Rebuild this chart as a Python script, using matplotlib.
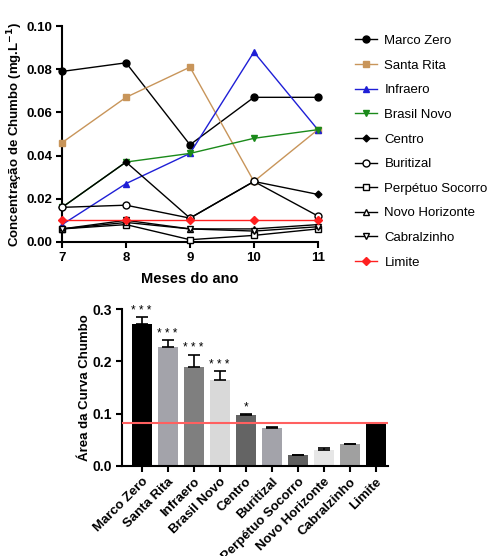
import matplotlib
matplotlib.use("Agg")
import matplotlib.pyplot as plt

plt.rcParams['font.family'] = ['Liberation Sans', 'DejaVu Sans']

months = [7, 8, 9, 10, 11]
month_labels = ['7', '8', '9', '10', '11']

series_names = ['Marco Zero', 'Santa Rita', 'Infraero', 'Brasil Novo', 'Centro',
                'Buritizal', 'Perpétuo Socorro', 'Novo Horizonte', 'Cabralzinho', 'Limite']
marco_zero = [0.079, 0.083, 0.045, 0.067, 0.067]
santa_rita = [0.046, 0.067, 0.081, 0.028, 0.052]
infraero = [0.008, 0.027, 0.041, 0.088, 0.052]
brasil_novo = [0.016, 0.037, 0.041, 0.048, 0.052]
centro = [0.016, 0.037, 0.011, 0.028, 0.022]
buritizal = [0.016, 0.017, 0.011, 0.028, 0.012]
perpetuo = [0.006, 0.008, 0.001, 0.003, 0.006]
novo_horizonte = [0.006, 0.009, 0.006, 0.006, 0.008]
cabralzinho = [0.006, 0.010, 0.006, 0.005, 0.007]
limite = [0.010, 0.010, 0.010, 0.010, 0.010]

auc_values = [0.272, 0.228, 0.189, 0.164, 0.098, 0.073, 0.021, 0.031, 0.041, 0.083]
auc_errors = [0.012, 0.012, 0.024, 0.017, 0.001, 0.001, 0.0005, 0.003, 0.001, 0.0]
auc_stars = ['* * *', '* * *', '* * *', '* * *', '*', '', '', '', '', '']
auc_limit = 0.083

fig = plt.figure(figsize=(4.89, 5.56), dpi=100)

# ---------- Top panel ----------
ax = fig.add_axes([0.127, 0.565, 0.523, 0.388])
styles = [
    (marco_zero, 'black', 'o', 'black', 5),
    (santa_rita, '#c8955a', 's', '#c8955a', 5),
    (infraero, '#1f1fd6', '^', '#1f1fd6', 5),
    (brasil_novo, '#1a8a1a', 'v', '#1a8a1a', 5),
    (centro, 'black', 'D', 'black', 3.5),
    (buritizal, 'black', 'o', 'white', 5),
    (perpetuo, 'black', 's', 'white', 5),
    (novo_horizonte, 'black', '^', 'white', 5),
    (cabralzinho, 'black', 'v', 'white', 5),
    (limite, '#ff2020', 'D', '#ff2020', 4),
]
handles = []
for (vals, col, mk, fc, ms), name in zip(styles, series_names):
    l, = ax.plot(months, vals, color=col, marker=mk, markerfacecolor=fc,
                 markeredgecolor=col, markersize=ms, linewidth=1.0, label=name,
                 clip_on=False, zorder=3)
    handles.append(l)

ax.set_xlim(7, 11)
ax.set_ylim(0, 0.10)
ax.set_xticks(months)
ax.set_xticklabels(month_labels, fontweight='bold', fontsize=9.5)
ax.set_yticks([0, 0.02, 0.04, 0.06, 0.08, 0.10])
ax.set_yticklabels(['0.00', '0.02', '0.04', '0.06', '0.08', '0.10'], fontweight='bold', fontsize=9.5)
for s in ['top', 'right']:
    ax.spines[s].set_visible(False)
for s in ['left', 'bottom']:
    ax.spines[s].set_linewidth(1.5)
ax.tick_params(width=1.5, length=4.5, direction='out', pad=2.5)
ax.set_xlabel('Meses do ano', fontweight='bold', fontsize=10.5, labelpad=6)
ax.set_ylabel('Concentração de Chumbo (mg.L$^{\\mathbf{-1}}$)', fontweight='bold', fontsize=9.5)
ax.yaxis.set_label_coords(-0.145, 0.5)

leg = fig.legend(handles=handles, loc='upper left', bbox_to_anchor=(0.716, 0.947),
                 frameon=False, fontsize=9.5, handlelength=1.6, labelspacing=0.94,
                 handletextpad=0.6, borderaxespad=0)

# ---------- Bottom panel ----------
bar_colors = ['#000000', '#a3a3aa', '#7f7f7f', '#d9d9d9', '#646464',
              '#a3a3aa', '#5f5f5f', '#e6e6e6', '#a0a0a0', '#000000']
ax2 = fig.add_axes([0.2495, 0.162, 0.543, 0.282])
x = list(range(len(series_names)))
ax2.bar(x, auc_values, width=0.77, color=bar_colors, zorder=2)
ax2.errorbar(x, auc_values, yerr=[[0] * len(x), auc_errors], fmt='none',
             ecolor='black', elinewidth=1.2, capsize=4, capthick=1.2, zorder=3)
for xi, v, e, st in zip(x, auc_values, auc_errors, auc_stars):
    if st:
        ax2.text(xi, v + e + 0.001, st, ha='center', va='bottom', fontsize=8.5)
ax2.axhline(auc_limit, color='#ff6060', linewidth=1.5, zorder=4)
ax2.set_xlim(-0.75, 9.45)
ax2.set_ylim(0, 0.3)
ax2.set_yticks([0.0, 0.1, 0.2, 0.3])
ax2.set_yticklabels(['0.0', '0.1', '0.2', '0.3'], fontweight='bold', fontsize=10)
ax2.set_xticks(x)
ax2.set_xticklabels(series_names, rotation=45, ha='right', rotation_mode='anchor',
                    fontweight='bold', fontsize=9.5)
for s in ['top', 'right']:
    ax2.spines[s].set_visible(False)
for s in ['left', 'bottom']:
    ax2.spines[s].set_linewidth(1.5)
ax2.tick_params(width=1.5, length=4.5, direction='out', pad=2.5)
ax2.set_ylabel('Área da Curva Chumbo', fontweight='bold', fontsize=9.5)
ax2.yaxis.set_label_coords(-0.115, 0.5)

fig.savefig('out.png', dpi=100)
